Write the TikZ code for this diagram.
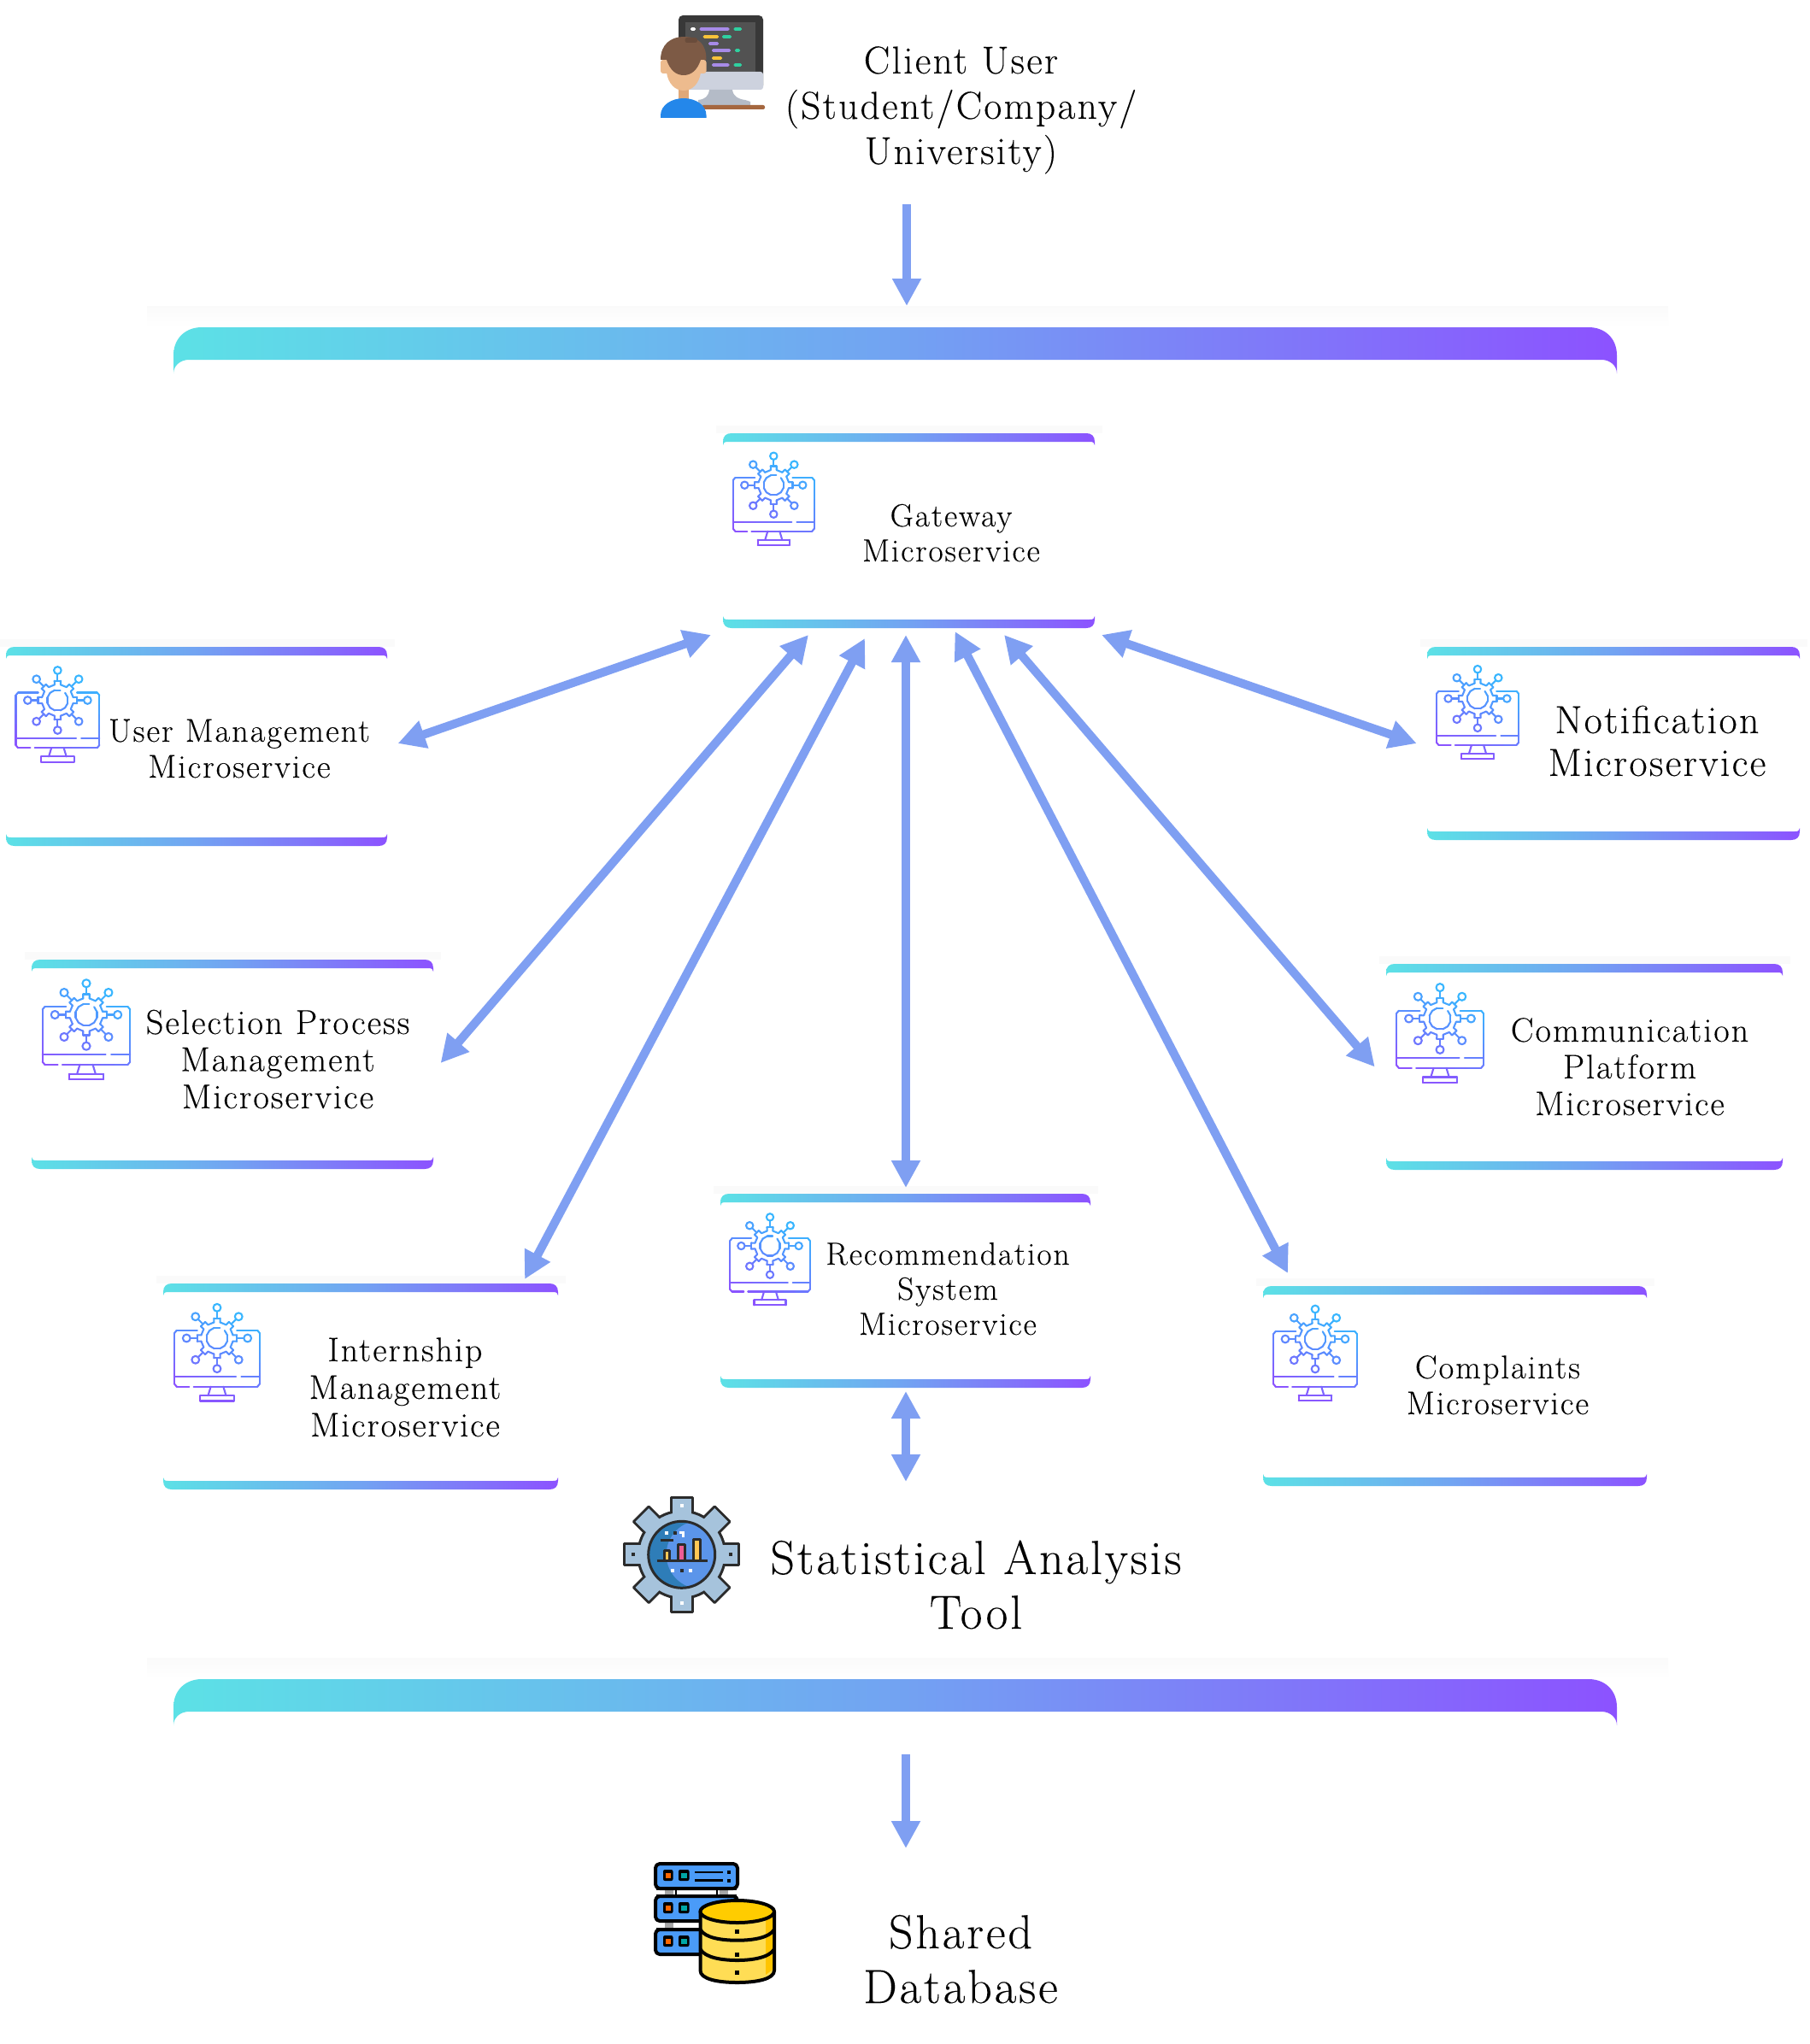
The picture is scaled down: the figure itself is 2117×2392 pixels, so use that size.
\documentclass[tikz,border=0pt]{standalone}
\usepackage{fontspec}
\setmainfont{Latin Modern Roman}[LetterSpace=5,WordSpace=1.05,FakeBold=0.12]
\usetikzlibrary{arrows.meta,calc}
\definecolor{barL}{HTML}{5CE1E6}
\definecolor{barM}{HTML}{72A3F2}
\definecolor{barR}{HTML}{8C52FF}
\definecolor{arrowc}{HTML}{7F9FF2}
\definecolor{gA}{HTML}{38B6FF}
\definecolor{gB}{HTML}{8C52FF}
\definecolor{strip}{HTML}{FAFAFA}
\definecolor{dark}{HTML}{2B2B2B}
\tikzset{
  cardbox/.style={inner sep=0pt,outer sep=0pt,draw=none},
  bar/.style={left color=barL,right color=barR,middle color=barM,draw=none},
  gline/.style={line width=2.1pt,line cap=round,line join=round,fill=none},
  flow/.style={draw=arrowc,line width=10pt,-{Triangle[length=32pt,width=32pt]}},
  biflow/.style={draw=arrowc,line width=10pt,{Triangle[length=32pt,width=32pt]}-{Triangle[length=32pt,width=32pt]}},
  lbl/.style={align=center,anchor=base,inner sep=0pt,outer sep=0pt,text=black},
  statline/.style={draw=dark,line width=3pt,line join=round},
  dbline/.style={draw=black,line width=4pt,line join=round},
}
% gradient-coloured strokes of the monitor icon
\newcommand\gs[4]{\pgfmathtruncatemacro\gpct{max(0,min(100,(((#2)+(#4))/2-0.25*((#1)+(#3))+35)/1.1))}\draw[gline,draw=gB!\gpct!gA] (#1,#2)--(#3,#4);}
\newcommand\gl[4]{\foreach \k in {0,...,4}{\pgfmathsetmacro\xa{(#1)+((#3)-(#1))*\k/5}\pgfmathsetmacro\ya{(#2)+((#4)-(#2))*\k/5}\pgfmathsetmacro\xb{(#1)+((#3)-(#1))*(\k+1)/5}\pgfmathsetmacro\yb{(#2)+((#4)-(#2))*(\k+1)/5}\gs{\xa}{\ya}{\xb}{\yb}}}
\newcommand\gp[4]{\pgfmathsetmacro\xa{(#2)*cos(#1)}\pgfmathsetmacro\ya{(#2)*sin(#1)}\pgfmathsetmacro\xb{(#4)*cos(#3)}\pgfmathsetmacro\yb{(#4)*sin(#3)}\gs{\xa}{\ya}{\xb}{\yb}}
\newcommand\gicon[3]{\begin{scope}[shift={(#1,#2)},scale=#3]
  \gl{-47.5}{-5.7}{-47.5}{51}\gs{-47.5}{51}{-45}{54}\gs{-47.5}{-5.7}{-45}{-8.7}
  \gs{-45}{-8.7}{-22}{-8.7}\gs{22}{-8.7}{45}{-8.7}\gs{45}{-8.7}{47.5}{-5.7}
  \gl{47.5}{-5.7}{47.5}{51}\gs{47.5}{51}{45}{54}
  \gl{-47.5}{43}{21}{43}\gs{27}{43}{47.5}{43}
  \gs{-45}{54}{-31}{54}\gl{-26}{54}{45}{54}
  \gs{-7}{54}{-10}{64}\gs{7}{54}{10}{64}
  \gs{-18.7}{64}{18.7}{64}\gs{18.7}{64}{18.7}{70}\gs{18.7}{70}{-18.7}{70}\gs{-18.7}{70}{-18.7}{64}
  \foreach \a in {0,45,...,315}{
    \pgfmathsetmacro\am{\a-11}\pgfmathsetmacro\at{\a-9}\pgfmathsetmacro\bt{\a+9}\pgfmathsetmacro\bm{\a+11}\pgfmathsetmacro\cm{\a+34}
    \gp{\am}{18}{\at}{22.5}\gp{\at}{22.5}{\bt}{22.5}\gp{\bt}{22.5}{\bm}{18}\gp{\bm}{18}{\cm}{18}
    \gp{\a}{22.5}{\a}{29.5}
    \pgfmathsetmacro\nx{34*cos(\a)}\pgfmathsetmacro\ny{34*sin(\a)}
    \pgfmathtruncatemacro\gpct{max(0,min(100,(\ny-0.5*\nx+35)/1.1))}
    \draw[gline,draw=gB!\gpct!gA] (\nx,\ny) circle[radius=4.2];
  }
  \foreach \a in {-45,-15,...,255}{\pgfmathsetmacro\bb{\a+30}\gp{\a}{12}{\bb}{12}}
\end{scope}}
% a card: two gradient bars with tails, plus faint strip above
\newcommand\card[5]{%name,x0,x1,top,bottom
  \fill[strip] ({#2-8},{#4-9}) rectangle ({#3+9},#4);
  \shade[bar] (#2,{#4+14}) -- (#2,{#4+10}) .. controls (#2,{#4+3}) and ({#2+4},#4) .. ({#2+10},#4) -- ({#3-10},#4) .. controls ({#3-4},#4) and (#3,{#4+3}) .. (#3,{#4+10}) -- (#3,{#4+14}) .. controls (#3,{#4+11}) and ({#3-2},{#4+10}) .. ({#3-6},{#4+10}) -- ({#2+6},{#4+10}) .. controls ({#2+2},{#4+10}) and (#2,{#4+11}) .. (#2,{#4+14}) -- cycle;
  \shade[bar] (#2,{#5-14}) -- (#2,{#5-10}) .. controls (#2,{#5-3}) and ({#2+4},#5) .. ({#2+10},#5) -- ({#3-10},#5) .. controls ({#3-4},#5) and (#3,{#5-3}) .. (#3,{#5-10}) -- (#3,{#5-14}) .. controls (#3,{#5-11}) and ({#3-2},{#5-10}) .. ({#3-6},{#5-10}) -- ({#2+6},{#5-10}) .. controls ({#2+2},{#5-10}) and (#2,{#5-11}) .. (#2,{#5-14}) -- cycle;
  \path ({(#2+#3)/2},{(#4+#5)/2}) node[cardbox,minimum width={(#3-#2)*1pt},minimum height={(#5-#4)*1pt}] (#1) {};
}
% wide band
\newcommand\band[2]{%name, top y
  \shade[top color=strip,bottom color=white,draw=none] (172,{#2-25}) rectangle (1952,#2);
  \shade[bar] (203,{#2+54}) -- (203,{#2+33}) .. controls (203,{#2+12}) and (218,#2) .. (236,#2) -- (1859,#2) .. controls (1877,#2) and (1892,{#2+12}) .. (1892,{#2+33}) -- (1892,{#2+54}) .. controls (1892,{#2+45}) and (1884,{#2+38}) .. (1874,{#2+38}) -- (221,{#2+38}) .. controls (211,{#2+38}) and (203,{#2+45}) .. (203,{#2+54}) -- cycle;
  \path (1047.5,{#2+19}) node[cardbox,minimum width=1689pt,minimum height=38pt] (#1) {};
}
\newcommand\lab[6]{%name,x,last baseline,size,lead,text
  \node[lbl,font=\fontsize{#4}{#5}\selectfont] (#1) at (#2,#3) {#6};}
\begin{document}
\begin{tikzpicture}[x=1pt,y=-1pt]
\useasboundingbox[fill=white] (0,0) rectangle (2117,2392);
% ---- client icon
\definecolor{chinc}{HTML}{CDD2DE}\definecolor{standc}{HTML}{B4BBC7}\definecolor{basec}{HTML}{CDD2DE}\definecolor{deskc}{HTML}{A5673F}
\fill[rounded corners=5pt,fill=black!78] (794,18) rectangle (893,105);
\fill[fill=black!68] (801.5,26) rectangle (884,84);
\fill[rounded corners=3pt,fill=chinc] (794,84) rectangle (893,105);
\fill[fill=standc] (830,105) -- (857,105) .. controls (858,113) and (864,116) .. (872,117) -- (878,119) -- (878,123) -- (817,123) -- (817,117) .. controls (825,116) and (829,113) .. (830,105) -- cycle;
\fill[rounded corners=2pt,fill=deskc] (821,123) rectangle (895,128);
\foreach \ya/\xa/\xb/\cc in {34/818.5/853.5/A78BE8,34/858.5/868/2FD0A0,43/822.7/841/F8C33A,43/845/856/2FD0A0,51/829/841/A78BE8,59/833/855/A78BE8,59/860/866/2FD0A0,68/833/845/F8C33A,76/833/853.5/A78BE8,76/858.5/868/2FD0A0}{
  \definecolor{tmpc}{HTML}{\cc}\fill[rounded corners=1.5pt,fill=tmpc] (\xa,\ya-1.8) rectangle (\xb,\ya+1.8);}
\fill[white,rounded corners=1.5pt] (808,32.2) rectangle (814,35.8);
\definecolor{skinc}{HTML}{EDBB8E}\definecolor{hairc}{HTML}{7D5A45}\definecolor{necc}{HTML}{E0A878}\definecolor{shirtc}{HTML}{2487EA}
\fill[necc] (794,100) rectangle (805.5,118);
\fill[shirtc] (773,138) -- (773,135) .. controls (773,123) and (786,115) .. (800,115) .. controls (814,115) and (826.5,123) .. (826.5,135) -- (826.5,138) -- cycle;
\fill[skinc,rounded corners=3pt] (773,70) rectangle (782,86);
\fill[skinc,rounded corners=3pt] (817,70) rectangle (826.5,86);
\fill[skinc] (780,70) -- (820,70) -- (820,85) .. controls (818,98) and (810,106) .. (800,106) .. controls (790,106) and (782,98) .. (780,85) -- cycle;
\fill[hairc] (773,70) .. controls (773,52) and (785,43) .. (800,43) .. controls (818,43) and (826.5,52) .. (826.5,70) -- (820,70) .. controls (816,82) and (809,88) .. (800,88) .. controls (791,88) and (784,82) .. (780,70) -- cycle;
\fill[hairc!85!black,rounded corners=2.5pt] (801.5,44) rectangle (816,50);
\node[cardbox,minimum width=122pt,minimum height=120pt] (clienticon) at (834,78) {};
\lab{clientlbl}{1124.5}{192}{45.5}{53}{Client User\\(Student/Company/\\University)}
% ---- bands and cards
\band{topband}{383}
\band{botband}{1965}
\card{gateway}{846}{1281}{507}{735}
\card{user}{7}{453}{757}{990}
\card{selection}{37}{507}{1123}{1368}
\card{internship}{191}{653}{1502}{1743}
\card{recommend}{843}{1276}{1397}{1624}
\card{complaints}{1478}{1927}{1505}{1739}
\card{communication}{1622}{2086}{1128}{1369}
\card{notification}{1670}{2106}{757}{983}
% ---- card icons
\gicon{905.3}{567.7}{1}
\gicon{67.4}{819.5}{1.03}
\gicon{101}{1187.5}{1.08}
\gicon{254}{1566}{1.05}
\gicon{901}{1458}{0.99}
\gicon{1539}{1567}{1.03}
\gicon{1685}{1192}{1.07}
\gicon{1729}{817.5}{1.01}
% ---- card labels
\lab{gatewaylbl}{1113}{657}{37.5}{41}{Gateway\\Microservice}
\lab{userlbl}{280}{910}{38.5}{42}{User Management\\Microservice}
\lab{selectionlbl}{325}{1297}{40.5}{43.5}{Selection Process\\Management\\Microservice}
\lab{internshiplbl}{474}{1681}{40}{44}{Internship\\Management\\Microservice}
\lab{recommendlbl}{1109}{1562}{37.5}{41}{Recommendation\\System\\Microservice}
\lab{complaintslbl}{1752.5}{1655}{38.5}{42}{Complaints\\Microservice}
\lab{communicationlbl}{1907}{1305}{40}{43}{Communication\\Platform\\Microservice}
\lab{notificationlbl}{1939}{908}{46}{50}{Notification\\Microservice}
% ---- statistics icon
\begin{scope}[shift={(797.7,1819.3)}]
\definecolor{gearc}{HTML}{A6C3DC}
\foreach \a in {0,45,...,315}{\draw[statline,fill=gearc,rotate=\a] (-12.5,-67) rectangle (12.5,-40);}
\draw[statline,fill=gearc] (0,0) circle[radius=51];
\foreach \a in {0,45,...,315}{\fill[gearc,rotate=\a] (-11,-65.5) rectangle (11,-44);}
\definecolor{lightb}{HTML}{5B95EA}\definecolor{darkb}{HTML}{2E7DB8}
\fill[darkb] (0,0) circle[radius=39];
\begin{scope}\clip (0,0) circle[radius=39];\fill[lightb] (22,0) circle[radius=40];\end{scope}
\draw[statline] (0,0) circle[radius=39];
\definecolor{baryel}{HTML}{FFC755}\definecolor{barpink}{HTML}{EE5C95}
\draw[statline,fill=baryel] (-20,6.7) rectangle (-14.3,-5);
\draw[statline,fill=barpink] (-4.3,6.7) rectangle (3.3,-12);
\draw[statline,fill=baryel] (14,6.7) rectangle (21.7,-18);
\draw[statline] (-29,6.7) -- (30,6.7);
\draw[statline] (-25,-17) -- (-10,-17);
\fill[white] (-20,-27) rectangle (-16,-23);\fill[dark] (-10,-27) rectangle (-6,-23);
\fill[white] (-3,-27) rectangle (3,-24);\fill[white] (0,-27) rectangle (3,-20);
\fill[white] (-12.7,17) rectangle (-8.7,21);\fill[dark] (-2,17) rectangle (2,21);\fill[white] (8,17) rectangle (12,21);
\fill[white] (-2,-59) rectangle (2,-55);\fill[white] (-2,55) rectangle (2,59);
\fill[dark] (-59,-2) rectangle (-55,2);\fill[dark] (55,-2) rectangle (59,2);
\end{scope}
\node[cardbox,minimum size=136pt] (staticon) at (797.7,1819.3) {};
\lab{statlbl}{1142}{1906}{56}{64}{Statistical Analysis\\Tool}
% ---- database icon
\definecolor{rackc}{HTML}{4A9BF8}\definecolor{cylc}{HTML}{FFDD55}\definecolor{cyltop}{HTML}{FFCC00}
\fill[white] (780,2211) rectangle (855,2218);\fill[white] (780,2248) rectangle (855,2257);
\fill[black!35] (778,2211) rectangle (788,2218);\fill[black!35] (842,2211) rectangle (852,2218);\fill[black!35] (778,2248) rectangle (788,2257);
\draw[black,line width=2pt] (791,2211) -- (791,2218) (839,2211) -- (839,2218) (768,2211) -- (862,2211) (768,2218) -- (862,2218) (768,2248) -- (862,2248) (768,2257) -- (862,2257);
\foreach \yt in {2181,2219,2258}{
  \draw[dbline,fill=rackc,rounded corners=5pt] (767,\yt) rectangle (863,\yt+29);
  \fill[black,rounded corners=2pt] (776,\yt+7) rectangle (787.5,\yt+20);
  \fill[black,rounded corners=2pt] (794,\yt+7) rectangle (806.5,\yt+20);
  \fill[orange!80!red] (778.5,\yt+10.5) rectangle (785,\yt+16.5);
  \fill[teal!70!cyan] (797,\yt+10.5) rectangle (803.5,\yt+16.5);}
\draw[black,line width=2.5pt] (813,2191) -- (846,2191) (813,2200.5) -- (846,2200.5);
\fill[black] (851,2189) rectangle (855,2193);\fill[black] (851,2198.5) rectangle (855,2202.5);
\draw[dbline,fill=cylc] (819.5,2237) -- (819.5,2306) .. controls (819.5,2316) and (840,2320) .. (862.7,2320) .. controls (885,2320) and (906,2316) .. (906,2306) -- (906,2237) -- cycle;
\fill[cyltop!90!orange] (896,2239) -- (904,2239) -- (904,2305) -- (896,2311) -- cycle;
\draw[dbline] (819.5,2258) .. controls (825,2268) and (845,2270.7) .. (862.7,2270.7) .. controls (880,2270.7) and (900,2268) .. (906,2258);
\draw[dbline] (819.5,2281) .. controls (825,2291) and (845,2294) .. (862.7,2294) .. controls (880,2294) and (900,2291) .. (906,2281);
\draw[dbline,fill=cyltop] (862.7,2237) ellipse[x radius=43.3,y radius=13];
\fill[black] (860.2,2257.5) rectangle (865.2,2262.5);\fill[black] (860.2,2284.5) rectangle (865.2,2289.5);\fill[black] (860.2,2305.5) rectangle (865.2,2310.5);
\node[cardbox,minimum width=142pt,minimum height=142pt] (dbicon) at (836,2250) {};
\lab{dblbl}{1124}{2344}{56}{64}{Shared\\Database}
% ---- connector end points
\coordinate (c-client) at (1061,239);
\coordinate (c-top) at (1061,358);
\coordinate (gw-user) at (832,743);\coordinate (user-gw) at (465.6,870);
\coordinate (gw-sel) at (946,743);\coordinate (sel-gw) at (515.6,1244);
\coordinate (gw-int) at (1012,747);\coordinate (int-gw) at (614,1497);
\coordinate (gw-rec) at (1060,743);\coordinate (rec-gw) at (1060,1390);
\coordinate (gw-com) at (1117.5,739);\coordinate (com-gw) at (1507,1490);
\coordinate (gw-cmm) at (1175,743);\coordinate (cmm-gw) at (1608.7,1248.5);
\coordinate (gw-not) at (1289,743);\coordinate (not-gw) at (1657.7,870);
\coordinate (rec-st) at (1060,1628);\coordinate (st-rec) at (1060,1734);
\coordinate (bot-a) at (1060,2053);\coordinate (db-a) at (1060,2163);
% ---- connectors
\draw[flow] (c-client) -- (c-top);
\draw[biflow] (gw-user) -- (user-gw);
\draw[biflow] (gw-sel) -- (sel-gw);
\draw[biflow] (gw-int) -- (int-gw);
\draw[biflow] (gw-rec) -- (rec-gw);
\draw[biflow] (gw-com) -- (com-gw);
\draw[biflow] (gw-cmm) -- (cmm-gw);
\draw[biflow] (gw-not) -- (not-gw);
\draw[biflow] (rec-st) -- (st-rec);
\draw[flow] (bot-a) -- (db-a);
\end{tikzpicture}
\end{document}
